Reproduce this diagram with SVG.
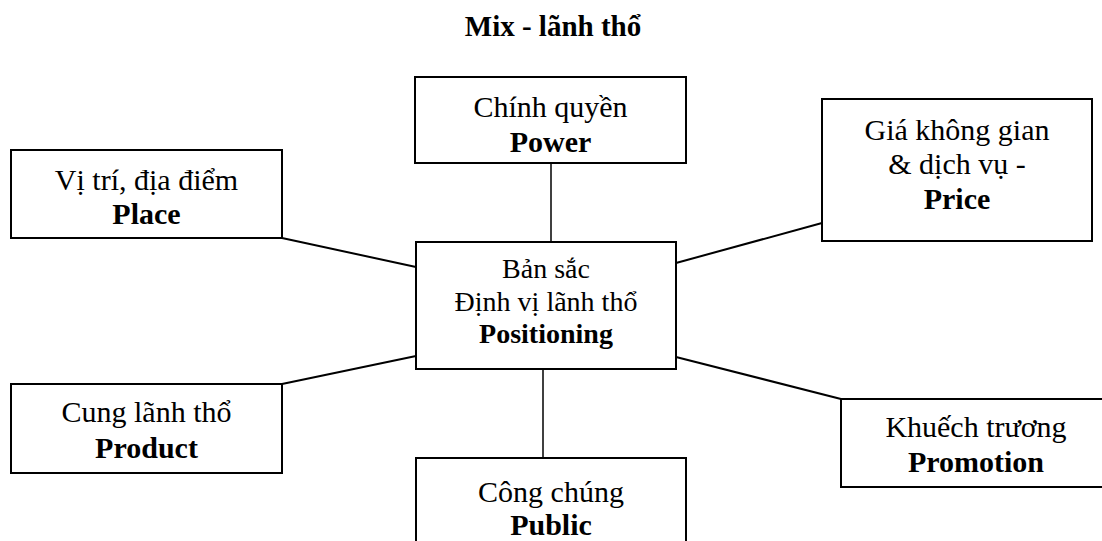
<svg xmlns="http://www.w3.org/2000/svg" width="1102" height="541" viewBox="0 0 1102 541">
<style>
.box{fill:#fff;stroke:#000;stroke-width:2}
.t{font-family:"Liberation Serif","Times New Roman",serif;font-size:30px;text-anchor:middle;fill:#000}
.c{font-size:28px}
.b{font-weight:bold}
.ln{stroke:#000;stroke-width:2;fill:none}
.v{stroke-width:1.5}
</style>
<rect width="1102" height="541" fill="#fff"/>
<text class="t b" x="553" y="36" style="font-size:29px">Mix - lãnh thổ</text>
<g id="connectors">
<line class="ln v" x1="551" y1="163" x2="551" y2="242"/>
<line class="ln v" x1="543" y1="369" x2="543" y2="458"/>
<line class="ln" x1="282" y1="238" x2="416" y2="267"/>
<line class="ln" x1="676" y1="263" x2="822" y2="223"/>
<line class="ln" x1="282" y1="384" x2="416" y2="356"/>
<line class="ln" x1="676" y1="357" x2="841" y2="399"/>
</g>
<g id="power">
<rect class="box" x="415" y="77" width="271" height="86"/>
<text class="t" x="550.5" y="117">Chính quyền</text>
<text class="t b" x="550.5" y="152">Power</text>
</g>
<g id="place">
<rect class="box" x="11" y="150" width="271" height="88"/>
<text class="t" x="146.5" y="190">Vị trí, địa điểm</text>
<text class="t b" x="146.5" y="224">Place</text>
</g>
<g id="price">
<rect class="box" x="822" y="99" width="270" height="142"/>
<text class="t" x="957" y="140">Giá không gian</text>
<text class="t" x="957" y="174">&amp; dịch vụ -</text>
<text class="t b" x="957" y="209">Price</text>
</g>
<g id="positioning">
<rect class="box" x="416" y="242" width="260" height="127"/>
<text class="t c" x="546" y="278">Bản sắc</text>
<text class="t c" x="546" y="311">Định vị lãnh thổ</text>
<text class="t c b" x="546" y="343">Positioning</text>
</g>
<g id="product">
<rect class="box" x="11" y="384" width="271" height="89"/>
<text class="t" x="146.5" y="422">Cung lãnh thổ</text>
<text class="t b" x="146.5" y="458">Product</text>
</g>
<g id="promotion">
<rect class="box" x="841" y="399" width="272" height="88"/>
<text class="t" x="976" y="437">Khuếch trương</text>
<text class="t b" x="976" y="472">Promotion</text>
</g>
<g id="public">
<rect class="box" x="416" y="458" width="270" height="95"/>
<text class="t" x="551" y="502">Công chúng</text>
<text class="t b" x="551" y="535">Public</text>
</g>
</svg>
